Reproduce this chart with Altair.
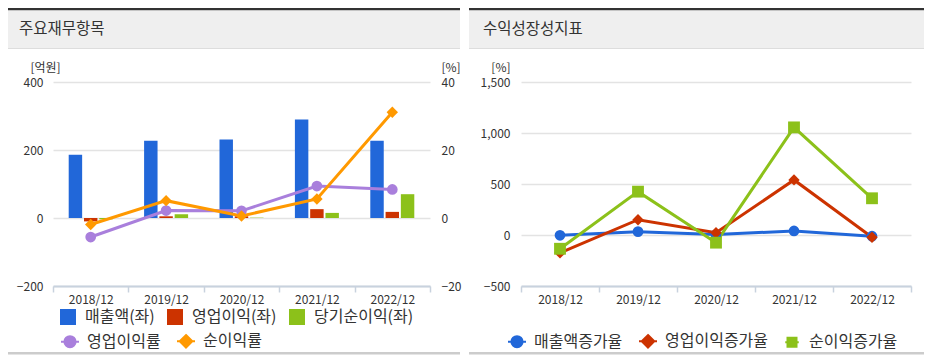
import altair as alt
import pandas as pd

FONT = "Noto Sans CJK KR"
TXT = "#333333"

# ---------------- data ----------------
years = ["2018/12", "2019/12", "2020/12", "2021/12", "2022/12"]

bar_series = ["매출액(좌)", "영업이익(좌)", "당기순이익(좌)"]
bar_colors = ["#2167d9", "#cc3300", "#8cc11a"]
sales = [186, 227, 231, 290, 227]
op_income = [-10, 5, 5, 26, 18]
net_income = [-4, 11, 1, 15, 70]

line_series = ["영업이익률", "순이익률"]
line_colors = ["#a97fdc", "#ff9900"]
op_margin = [-5.6, 2.2, 2.1, 9.4, 8.4]
net_margin = [-1.9, 5.1, 0.6, 5.6, 31.1]

growth_series = ["매출액증가율", "영업이익증가율", "순이익증가율"]
growth_colors = ["#2167d9", "#cc3300", "#8cc11a"]
sales_growth = [-3, 33, 5, 40, -12]
op_growth = [-175, 150, 22, 540, -22]
net_growth = [-135, 425, -75, 1055, 360]

left_ticks = [-200, 0, 200, 400]
pct_ticks = [-20, 0, 20, 40]
growth_ticks = [-500, 0, 500, 1000, 1500]


def long(names, arrays):
    rows = []
    for s, arr in zip(names, arrays):
        for y, v in zip(years, arr):
            rows.append({"year": y, "series": s, "value": v})
    return pd.DataFrame(rows)


bar_df = long(bar_series, [sales, op_income, net_income])
margin_df = long(line_series, [op_margin, net_margin])
growth_df = long(growth_series, [sales_growth, op_growth, net_growth])
dummy = pd.DataFrame({"k": [0]})

PH = 204
LW = 377
RW = 390

GRID = "#e3e3e3"
AXC = "#c8d2de"
LEGFS = 16

# legend symbol paths (line stub + marker)
circ = "M-1,0H1M0.62,0A0.62,0.62,0,1,1,-0.62,0A0.62,0.62,0,1,1,0.62,0Z"
diam = "M-1,0H1M0,-0.7L0.7,0L0,0.7L-0.7,0Z"
sq = "M-0.75,0H0.75M-0.5,-0.5H0.5V0.5H-0.5Z"


def x_enc():
    return alt.X(
        "year:N", sort=years, title=None,
        scale=alt.Scale(domain=years, paddingInner=0, paddingOuter=0),
        axis=alt.Axis(labelAngle=0, tickBand="extent", domainColor=AXC, domainWidth=2,
                      tickColor=AXC, tickWidth=1.5, tickSize=6, labelPadding=2,
                      labelFontSize=12, labelColor=TXT, labelFont=FONT, grid=False),
    )


def deco(x0, x1, title, tx):
    dark = alt.Chart(dummy).mark_rect(color="#333333").encode(
        x=alt.value(x0), x2=alt.value(x1), y=alt.value(-74), y2=alt.value(-71.5))
    head = alt.Chart(dummy).mark_rect(color="#efefef").encode(
        x=alt.value(x0), x2=alt.value(x1), y=alt.value(-71.5), y2=alt.value(-34))
    sep = alt.Chart(dummy).mark_rect(color="#dddddd").encode(
        x=alt.value(x0), x2=alt.value(x1), y=alt.value(-34), y2=alt.value(-33))
    foot = alt.Chart(dummy).mark_rect(color="#cccccc").encode(
        x=alt.value(x0), x2=alt.value(x1), y=alt.value(270), y2=alt.value(272.5))
    ttl = alt.Chart(dummy).mark_text(align="left", baseline="middle", font=FONT,
                                     fontSize=15.5, color=TXT).encode(
        x=alt.value(tx), y=alt.value(-53), text=alt.value(title))
    return [dark, head, sep, foot, ttl]


def line_legend(x, y):
    return alt.Legend(title=None, orient="none", legendX=x, legendY=y, direction="horizontal",
                      symbolSize=324, symbolStrokeWidth=2, symbolOpacity=1,
                      labelFont=FONT, labelFontSize=LEGFS, labelColor=TXT, labelOffset=7,
                      columnPadding=12, padding=0)


def series_lines(df, names, colors, shapes, sizes, y):
    layers = []
    for s, c in zip(names, colors):
        layers.append(alt.Chart(df).transform_filter(alt.datum.series == s)
                      .mark_line(strokeWidth=3, color=c).encode(x=x_enc(), y=y))
    for s, c, sh, sz in zip(names, colors, shapes, sizes):
        layers.append(alt.Chart(df).transform_filter(alt.datum.series == s)
                      .mark_point(filled=True, shape=sh, size=sz, opacity=1, color=c)
                      .encode(x=x_enc(), y=y))
    return layers


def legend_layer(df, names, colors, paths, y, leg):
    return alt.Chart(df).mark_point(filled=True, opacity=0).encode(
        x=x_enc(), y=y,
        fill=alt.Fill("series:N", sort=names, scale=alt.Scale(domain=names, range=colors), legend=leg),
        stroke=alt.Stroke("series:N", sort=names, scale=alt.Scale(domain=names, range=colors), legend=leg),
        shape=alt.Shape("series:N", sort=names, scale=alt.Scale(domain=names, range=paths), legend=leg),
    )


# ---------------- left chart ----------------
y_left = alt.Y(
    "value:Q", title="[억원]", scale=alt.Scale(domain=[-200, 400], nice=False),
    axis=alt.Axis(values=left_ticks, titleAngle=0, titleX=-8, titleY=-15, titleAlign="center",
                  titleBaseline="middle", titleFontSize=12, titleFontWeight="normal",
                  titleColor=TXT, titleFont=FONT, ticks=False, domain=False, labelPadding=10,
                  labelFontSize=12, labelColor=TXT, labelFont=FONT, grid=True,
                  gridColor=GRID, gridWidth=1.5),
)

bars = alt.Chart(bar_df).mark_bar().encode(
    x=x_enc(),
    xOffset=alt.XOffset("series:N", sort=bar_series,
                        scale=alt.Scale(domain=bar_series, range=[15.7, 59.7],
                                        paddingInner=0.12, paddingOuter=0)),
    y=y_left,
    color=alt.Color("series:N", sort=bar_series,
                    scale=alt.Scale(domain=bar_series, range=bar_colors),
                    legend=alt.Legend(title=None, orient="none", legendX=7, legendY=227,
                                      direction="horizontal", symbolType="square",
                                      symbolSize=256, symbolStrokeWidth=0, symbolOpacity=1,
                                      labelFont=FONT, labelFontSize=LEGFS, labelColor=TXT,
                                      labelOffset=9, columnPadding=12, padding=0)),
)

y_pct = alt.Y(
    "value:Q", title="[%]", scale=alt.Scale(domain=[-20, 40], nice=False),
    axis=alt.Axis(orient="right", values=pct_ticks, titleAngle=0, titleX=11, titleY=-15,
                  titleAlign="left", titleBaseline="middle", titleFontSize=12,
                  titleFontWeight="normal", titleColor=TXT, titleFont=FONT, ticks=False,
                  domain=False, labelPadding=11, labelFontSize=12, labelColor=TXT,
                  labelFont=FONT, grid=False),
)

left_a = alt.layer(*deco(-45, 407, "주요재무항목", -34), bars)
left_b = alt.layer(
    *series_lines(margin_df, line_series, line_colors, ["circle", "diamond"], [115, 130], y_pct),
    legend_layer(margin_df, line_series, line_colors, [circ, diam], y_pct, line_legend(7, 249)),
)
left = alt.layer(left_a, left_b).resolve_scale(y="independent").properties(width=LW, height=PH)

# ---------------- right chart ----------------
y_growth = alt.Y(
    "value:Q", title="[%]", scale=alt.Scale(domain=[-500, 1500], nice=False),
    axis=alt.Axis(values=growth_ticks, format=",.0f", titleAngle=0, titleX=-11, titleY=-15,
                  titleAlign="right", titleBaseline="middle", titleFontSize=12,
                  titleFontWeight="normal", titleColor=TXT, titleFont=FONT, ticks=False,
                  domain=False, labelPadding=11, labelFontSize=12, labelColor=TXT,
                  labelFont=FONT, grid=True, gridColor=GRID, gridWidth=1.5),
)
right = alt.layer(
    *deco(-52, 403, "수익성장성지표", -38),
    *series_lines(growth_df, growth_series, growth_colors, ["circle", "diamond", "square"],
                  [115, 130, 140], y_growth),
    legend_layer(growth_df, growth_series, growth_colors, [circ, diam, sq], y_growth,
                 line_legend(-14, 249)),
).properties(width=RW, height=PH)

chart = (
    alt.hconcat(left, right, spacing=8)
    .resolve_scale(color="independent", fill="independent", stroke="independent",
                   shape="independent", x="independent", y="independent")
    .resolve_legend(color="independent", fill="independent", stroke="independent",
                    shape="independent")
    .properties(padding=0, background="white")
    .configure_view(strokeWidth=0)
)

chart.save("out.html", embed_options={"renderer": "svg", "actions": False})
